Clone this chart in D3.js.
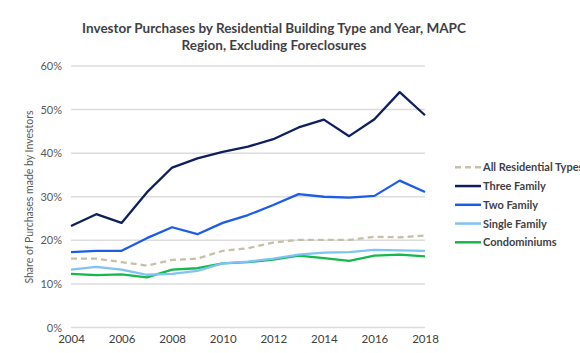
<!DOCTYPE html>
<html><head><meta charset="utf-8">
<script src="https://cdn.jsdelivr.net/npm/d3@7"></script>
<style>body{margin:0;background:#fff;}svg{display:block;}</style>
</head><body>
<svg id="c" width="580" height="353"></svg>
<script>
const years = [2004,2005,2006,2007,2008,2009,2010,2011,2012,2013,2014,2015,2016,2017,2018];
const allResidential = [15.8,15.8,15.0,14.2,15.5,15.8,17.6,18.2,19.5,20.1,20.1,20.1,20.8,20.7,21.1];
const threeFamily = [23.3,26.0,24.0,31.0,36.7,38.8,40.3,41.5,43.2,45.9,47.7,43.9,47.8,54.0,48.7];
const twoFamily = [17.3,17.6,17.6,20.5,23.0,21.4,24.0,25.8,28.1,30.6,30.0,29.8,30.2,33.7,31.1];
const singleFamily = [13.3,13.9,13.3,12.1,12.3,13.0,14.7,15.1,15.8,16.7,17.2,17.3,17.8,17.7,17.6];
const condominiums = [12.3,12.0,12.2,11.5,13.3,13.6,14.7,15.0,15.6,16.5,15.9,15.3,16.5,16.7,16.3];
const seriesNames = ["All Residential Types","Three Family","Two Family","Single Family","Condominiums"];
const yTicks = [0,10,20,30,40,50,60];
const xTicks = [2004,2006,2008,2010,2012,2014,2016,2018];

const series = [
  {name:seriesNames[0], values:allResidential, color:"#c6c1a6", dash:"6,4"},
  {name:seriesNames[1], values:threeFamily, color:"#0f1f5e", dash:null},
  {name:seriesNames[2], values:twoFamily, color:"#1c5ce6", dash:null},
  {name:seriesNames[3], values:singleFamily, color:"#80c2f6", dash:null},
  {name:seriesNames[4], values:condominiums, color:"#14b84c", dash:null}
];

const svg = d3.select("#c");
const x = d3.scaleLinear().domain([2004,2018]).range([71,425]);
const y = d3.scaleLinear().domain([0,60]).range([327.5,66]);
const font = "Lato, 'Open Sans', sans-serif";

// title
const title = svg.append("text").attr("text-anchor","middle").attr("font-family",font)
  .attr("font-weight","bold").attr("font-size",13.5).attr("fill","#3f3f46");
title.append("tspan").attr("x",274).attr("y",33).text("Investor Purchases by Residential Building Type and Year, MAPC");
title.append("tspan").attr("x",274).attr("y",50).text("Region, Excluding Foreclosures");

// gridlines
svg.append("g").selectAll("line").data(yTicks).join("line")
  .attr("x1",x(2004)).attr("x2",x(2018)).attr("y1",d=>y(d)).attr("y2",d=>y(d))
  .attr("stroke","#dcdcdc").attr("stroke-width",1.5);

// y axis
const yAxis = svg.append("g").attr("transform","translate(62,0)")
  .call(d3.axisLeft(y).tickValues(yTicks).tickFormat(d=>d+"%").tickSize(0).tickPadding(0));
yAxis.select(".domain").remove();
yAxis.selectAll("text").attr("font-family",font).attr("font-size",11).attr("fill","#595959");

// x axis
const xAxis = svg.append("g").attr("transform","translate(0,335)")
  .call(d3.axisBottom(x).tickValues(xTicks).tickFormat(d3.format("d")).tickSize(0).tickPadding(0));
xAxis.select(".domain").remove();
xAxis.selectAll("text").attr("font-family",font).attr("font-size",11.5).attr("fill","#404040");

// y title
svg.append("text").attr("transform","translate(33,197) rotate(-90)").attr("text-anchor","middle")
  .attr("font-family",font).attr("font-size",10.5).attr("fill","#595959")
  .text("Share of Purchases made by Investors");

// lines
const line = d3.line().x((d,i)=>x(years[i])).y(d=>y(d));
const drawOrder = [4,3,2,1,0];
svg.append("g").selectAll("path").data(drawOrder.map(i=>series[i])).join("path")
  .attr("d",d=>line(d.values)).attr("fill","none").attr("stroke",d=>d.color)
  .attr("stroke-width",2.3).attr("stroke-dasharray",d=>d.dash).attr("stroke-linejoin","round");

// legend
const leg = svg.append("g").selectAll("g").data(series).join("g")
  .attr("transform",(d,i)=>`translate(455,${167.3+i*18.75})`);
leg.append("line").attr("x1",0).attr("x2",26).attr("stroke",d=>d.color).attr("stroke-width",2.5)
  .attr("stroke-dasharray",d=>d.dash);
leg.append("text").attr("x",28).attr("y",4).attr("font-family",font).attr("font-weight","bold")
  .attr("font-size",11).attr("fill","#3f3f46").text(d=>d.name);
</script>
</body></html>
